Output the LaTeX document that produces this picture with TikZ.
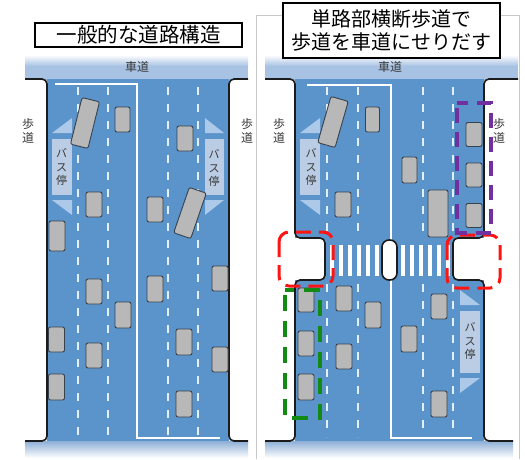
\documentclass[tikz,border=0pt]{standalone}
\usepackage{fontspec}
\newfontfamily\jpfont{Noto Sans CJK JP}
\definecolor{roadblue}{HTML}{5B93CB}
\definecolor{bandblue}{HTML}{A7C2E3}
\definecolor{bandlow}{HTML}{8DAED6}
\definecolor{bayblue}{HTML}{ADC9EA}
\definecolor{baypanel}{HTML}{BACDE5}
\definecolor{lanewhite}{HTML}{E2F0FC}
\definecolor{carfill}{HTML}{B8B8B8}
\definecolor{caredge}{HTML}{38424C}
\definecolor{curbline}{HTML}{1B1B1B}
\definecolor{labelgray}{HTML}{3A3A3A}
\definecolor{markred}{HTML}{FF1414}
\definecolor{markgreen}{HTML}{138A13}
\definecolor{markpurple}{HTML}{7030A0}
\definecolor{panelgray}{HTML}{C8C8C8}

\tikzset{
  curb/.style={draw=curbline, line width=1.6pt, rounded corners=5pt},
  lane/.style={draw=lanewhite, line width=2.2pt, dash pattern=on 8pt off 9pt},
  centreline/.style={draw=white, line width=2.6pt},
  car/.style={draw=caredge, fill=carfill, line width=0.9pt, rounded corners=2pt},
  smalllabel/.style={text=labelgray, font=\jpfont\fontsize{12}{14}\selectfont, align=center, inner sep=0pt},
  baylabel/.style={text=labelgray, font=\jpfont\fontsize{11}{13.5}\selectfont, align=center, inner sep=0pt},
  titlebox/.style={draw=black, line width=1.4pt, fill=white, align=center, inner sep=0pt},
  redmark/.style={draw=markred, line width=3pt, dash pattern=on 15pt off 8pt, rounded corners=10pt},
  greenmark/.style={draw=markgreen, line width=3.6pt, dash pattern=on 16pt off 10pt, dash phase=21pt},
  purplemark/.style={draw=markpurple, line width=3.6pt, dash pattern=on 15pt off 9pt, dash phase=19pt},
}

% a car or bus seen from above: centre x, centre y, width, length, turn
\newcommand\drawcar[5]{%
  \draw[car, rotate around={#5:(#1,#2)}] (#1-#3/2,#2-#4/2) rectangle (#1+#3/2,#2+#4/2);}
% bus bay on a left-hand kerb: inner x, outer x, top y, bottom y
\newcommand\leftbay[4]{%
  \fill[bayblue] (#1,#3+15) -- (#2,#3+15) -- (#2,#3) -- cycle;
  \fill[baypanel] (#1,#3+21) rectangle (#2,#4-20);
  \fill[bayblue] (#1,#4-15) -- (#2,#4-15) -- (#2,#4) -- cycle;}
% bus bay on a right-hand kerb: lane-side x, kerb-side x, top y, bottom y
\newcommand\rightbay[4]{%
  \fill[bayblue] (#1,#3) -- (#1,#3+15) -- (#2,#3+15) -- cycle;
  \fill[baypanel] (#1,#3+21) rectangle (#2,#4-20);
  \fill[bayblue] (#1,#4-15) -- (#2,#4-15) -- (#1,#4) -- cycle;}

\begin{document}
\begin{tikzpicture}[x=1pt, y=-1pt]
\useasboundingbox (0,0) rectangle (525,459);
\fill[white] (0,0) rectangle (525,459);

% ---------------- left street: ordinary layout ----------------
\shade[top color=white, bottom color=bandblue] (25,55) rectangle (248,66);
\fill[bandblue] (25,65.5) rectangle (248,79.5);
\shade[top color=bandlow, bottom color=white] (25,441) rectangle (248,458);
\fill[roadblue] (47,79) rectangle (229,441);

\leftbay{52}{72}{118}{215}
\rightbay{205}{224}{118}{215}

\foreach \x in {78,108,168,198}
  \draw[lane] (\x,87) -- (\x,437);
\draw[centreline] (55,84) -- (137,84) -- (137,438) -- (220,438);

\draw[curb] (25,79) -- (47,79) -- (47,441) -- (25,441);
\draw[curb] (248,79) -- (229,79) -- (229,441) -- (248,441);

\drawcar{85}{123}{18}{48}{-14}
\drawcar{122.5}{119.5}{15}{25}{0}
\drawcar{185}{138.5}{16}{25}{0}
\drawcar{94}{204.5}{16}{25}{0}
\drawcar{155}{209.5}{16}{25}{0}
\drawcar{190}{213}{18}{48}{-19}
\drawcar{57}{236}{16}{30}{0}
\drawcar{94}{291.5}{16}{25}{0}
\drawcar{123}{315}{16}{26}{0}
\drawcar{56.5}{339.5}{16}{25}{0}
\drawcar{94}{355.5}{16}{25}{0}
\drawcar{56.5}{387}{16}{26}{0}
\drawcar{155}{289}{16}{26}{0}
\drawcar{220}{278.5}{16}{25}{0}
\drawcar{184}{342}{16}{26}{0}
\drawcar{220}{359.5}{16}{25}{0}
\drawcar{184}{404}{16}{26}{0}

\node[smalllabel] (roadA) at (137,66.5) {車道};
\node[smalllabel] (walkA1) at (28,131) {歩\\道};
\node[smalllabel] (walkA2) at (247,131) {歩\\道};
\node[baylabel] (busA1) at (61.5,167) {バ\\ス\\停};
\node[baylabel] (busA2) at (214,168) {バ\\ス\\停};

\node[titlebox, minimum width=207pt, minimum height=24pt,
      font=\jpfont\fontsize{20.5}{22}\selectfont] (titleA) at (138.5,35) {一般的な道路構造};

% ---------------- right street: kerb build-outs at the crossing ----------------
\draw[panelgray, line width=1pt] (256,459) -- (256,15) -- (519,15) -- (519,459);

\shade[top color=white, bottom color=bandblue] (265,55) rectangle (518,66);
\fill[bandblue] (265,65.5) rectangle (518,79.5);
\shade[top color=bandlow, bottom color=white] (265,441) rectangle (513,458);
\fill[roadblue] (295,79) rectangle (484,441);

\leftbay{300}{320}{118}{215}
\rightbay{460}{480}{290}{393}

\foreach \x in {327,358,423,453} {
  \draw[lane] (\x,87) -- (\x,236);
  \draw[lane] (\x,284) -- (\x,437);
}
\draw[centreline] (307,85) -- (391,85) -- (391,438) -- (472,438);

% zebra crossing
\foreach \x in {332,341,...,377}
  \fill[white] (\x-1.7,245) rectangle (\x+1.7,276);
\foreach \x in {403,412,...,448}
  \fill[white] (\x-1.7,245) rectangle (\x+1.7,276);

% kerb build-outs
\fill[white, rounded corners=5pt] (285,238) -- (325,238) -- (325,280) -- (285,280) -- cycle;
\fill[white, rounded corners=5pt] (494,238) -- (453,238) -- (453,280) -- (494,280) -- cycle;
\draw[curb] (265,79) -- (295,79) -- (295,238) -- (325,238) -- (325,280) -- (295,280) -- (295,441) -- (265,441);
\draw[curb] (518,79) -- (484,79) -- (484,238) -- (453,238) -- (453,280) -- (484,280) -- (484,441) -- (513,441);
\draw[curb, fill=white, rounded corners=7pt] (382,240) rectangle (397,280);

\drawcar{333}{122}{18}{48}{-16}
\drawcar{372.5}{119.5}{14}{25}{0}
\drawcar{409.5}{170}{15}{26}{0}
\drawcar{438}{213.5}{20}{47}{0}
\drawcar{343}{204.5}{16}{25}{0}
\drawcar{474}{134.5}{16}{24}{0}
\drawcar{474}{175}{16}{24}{0}
\drawcar{474}{215.5}{16}{24}{0}
\drawcar{306}{300}{16}{24}{0}
\drawcar{306}{343.5}{16}{25}{0}
\drawcar{306}{387}{16}{26}{0}
\drawcar{344}{298.5}{16}{25}{0}
\drawcar{373}{315}{16}{26}{0}
\drawcar{344}{356.5}{16}{25}{0}
\drawcar{409}{339}{16}{26}{0}
\drawcar{439}{306.5}{16}{25}{0}
\drawcar{439}{404}{16}{26}{0}

\node[smalllabel] (roadB) at (390,66.5) {車道};
\node[smalllabel] (walkB1) at (279,131) {歩\\道};
\node[smalllabel] (walkB2) at (499,131) {歩\\道};
\node[baylabel] (busB1) at (311,167) {バ\\ス\\停};
\node[baylabel] (busB2) at (470,341) {バ\\ス\\停};

% highlighted areas
\draw[redmark] (279,232) rectangle (333,286);
\draw[redmark] (447,235) rectangle (500,288);
\draw[greenmark] (285,290) rectangle (320,418);
\draw[purplemark] (457,103) rectangle (491,233);

\node[titlebox, minimum width=217pt, minimum height=55pt,
      font=\jpfont\fontsize{20}{23}\selectfont] (titleB) at (391.5,30.5) {単路部横断歩道で\\歩道を車道にせりだす};
\end{tikzpicture}
\end{document}
